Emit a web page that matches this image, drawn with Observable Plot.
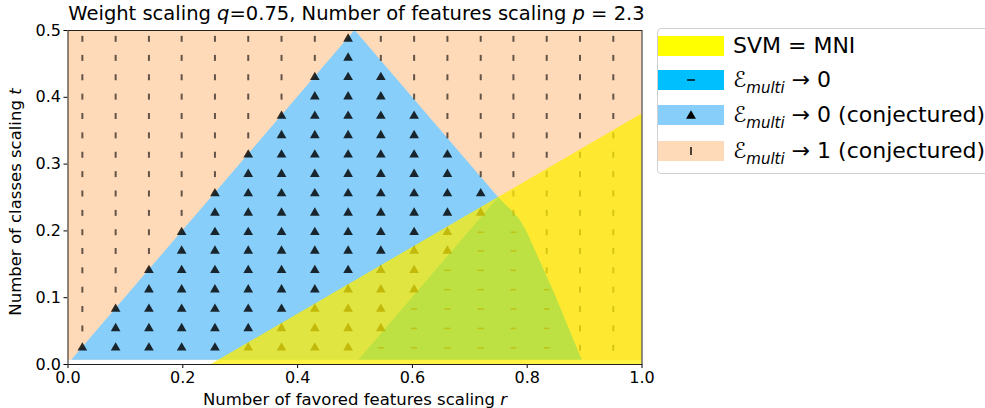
<!DOCTYPE html>
<html>
<head>
<meta charset="utf-8">
<script src="https://cdn.jsdelivr.net/npm/d3@7"></script>
<script src="https://cdn.jsdelivr.net/npm/@observablehq/plot@0.6"></script>
<style>
  body { margin: 0; background: #fff; font-family: "DejaVu Sans", sans-serif; color: #000; }
  #wrap { position: relative; width: 985px; height: 408px; overflow: hidden; }
  #plot { position: absolute; left: 0; top: 10px; }
  #title { position: absolute; left: 0; width: 713px; top: 4px; line-height: 20px; text-align: center; font-size: 19.5px; white-space: nowrap; }
  #xlab { position: absolute; left: 0; width: 710px; top: 390px; line-height: 20px; text-align: center; font-size: 16.5px; white-space: nowrap; }
  #ylab { position: absolute; left: 16px; top: 202px; width: 300px; margin-left: -150px; margin-top: -10px; line-height: 20px; text-align: center; font-size: 16.5px; white-space: nowrap; transform: rotate(-90deg); }
  #legend { position: absolute; left: 657px; top: 28px; width: 340px; height: 146px; border: 1px solid #d0d0d0; border-radius: 4px; box-sizing: border-box; background: #fff; }
  .row { position: absolute; left: 0; height: 20px; display: flex; align-items: center; }
  .patch { width: 66px; height: 20px; display: flex; align-items: center; justify-content: center; }
  .lab { margin-left: 9px; font-size: 22px; line-height: 20px; white-space: nowrap; }
  .lab sub { font-size: 15px; font-style: italic; vertical-align: -6px; line-height: 0; }
</style>
</head>
<body>
<div id="wrap">
  <div id="plot"></div>
  <div id="title">Weight scaling <i>q</i>=0.75, Number of features scaling <i>p</i> = 2.3</div>
  <div id="xlab">Number of favored features scaling <i>r</i></div>
  <div id="ylab">Number of classes scaling <i>t</i></div>
  <div id="legend"></div>
</div>
<script>
// ---- data ----
// marker grid positions (favored features scaling r, classes scaling t)
const rGrid = [0.025, 0.083, 0.141, 0.198, 0.256, 0.314, 0.372, 0.430, 0.488, 0.545, 0.603, 0.661, 0.719, 0.776, 0.834, 0.892, 0.950];
const tGrid = [0.025, 0.054, 0.083, 0.112, 0.141, 0.170, 0.198, 0.227, 0.256, 0.285, 0.314, 0.343, 0.372, 0.401, 0.430, 0.459, 0.4875];
// marker type per grid cell, bottom row first: P = "|" (->1 conj.), T = triangle (->0 conj.), D = "-" (->0)
const markerRows = [
  "TTTTTTTTTDDDDDDPP",
  "PTTTTTTTTTDDDDDPP",
  "PTTTTTTTTTDDDDDPP",
  "PPTTTTTTTTTDDDDPP",
  "PPTTTTTTTTTDDDPPP",
  "PPPTTTTTTTTTDDPPP",
  "PPPTTTTTTTTTDDPPP",
  "PPPPTTTTTTTTTPPPP",
  "PPPPTTTTTTTTTPPPP",
  "PPPPPTTTTTTTPPPPP",
  "PPPPPTTTTTTTPPPPP",
  "PPPPPPTTTTTPPPPPP",
  "PPPPPPTTTTTPPPPPP",
  "PPPPPPPTTTPPPPPPP",
  "PPPPPPPTTTPPPPPPP",
  "PPPPPPPPTPPPPPPPP",
  "PPPPPPPPTPPPPPPPP"
];
// region boundaries (r, lower t, upper t)
const peachR  = [0, 1];
const peachLo = [0.0065, 0.0065];
const peachHi = [0.5, 0.5];
const lightBlueR  = [0.0065, 0.5, 0.5065, 0.75];
const lightBlueLo = [0.0065, 0.0065, 0.0065, 0.25];
const lightBlueHi = [0.0065, 0.5, 0.4935, 0.25];
const deepBlueR  = [0.5065, 0.75, 0.777, 0.788, 0.80, 0.846, 0.896];
const deepBlueLo = [0.0065, 0.0065, 0.0065, 0.0065, 0.0065, 0.0065, 0.0065];
const deepBlueHi = [0.0065, 0.25, 0.227, 0.216, 0.198, 0.11, 0.0065];
const yellowR  = [0.25, 1];
const yellowLo = [0, 0];
const yellowHi = [0, 0.375];
// axis ticks
const xTicks = [0, 0.2, 0.4, 0.6, 0.8, 1.0];
const yTicks = [0, 0.1, 0.2, 0.3, 0.4, 0.5];
// legend
const legendLabels = ["SVM = MNI", "ℰ<sub>multi</sub> → 0", "ℰ<sub>multi</sub> → 0 (conjectured)", "ℰ<sub>multi</sub> → 1 (conjectured)"];
const legendColors = ["#ffff00", "#00bfff", "#87cefa", "#ffdab9"];
const legendMarks = ["", "D", "T", "P"];

// ---- build tables ----
const region = (R, lo, hi) => R.map((r, i) => ({r, lo: lo[i], hi: hi[i]}));
const markers = [];
markerRows.forEach((row, j) => row.split("").forEach((c, k) => markers.push({r: rGrid[k], t: tGrid[j], type: c})));

const vbar = {draw(ctx) { ctx.rect(-1, -3, 2, 6); }};
const hbar = {draw(ctx) { ctx.rect(-3, -0.8, 6, 1.6); }};

const chart = Plot.plot({
  width: 665,
  height: 398,
  marginTop: 20,
  marginBottom: 44,
  marginLeft: 67.5,
  marginRight: 23.5,
  style: {fontFamily: "DejaVu Sans", fontSize: "16px", background: "transparent", color: "#000", overflow: "visible"},
  x: {domain: [0, 1], ticks: xTicks, tickFormat: d3.format(".1f"), label: null, tickSize: 4, tickPadding: 3},
  y: {domain: [0, 0.5], ticks: yTicks, tickFormat: d3.format(".1f"), label: null, tickSize: 4, tickPadding: 3},
  marks: [
    Plot.areaY(region(peachR, peachLo, peachHi), {x: "r", y1: "lo", y2: "hi", fill: "#ffdab9"}),
    Plot.areaY(region(lightBlueR, lightBlueLo, lightBlueHi), {x: "r", y1: "lo", y2: "hi", fill: "#87cefa"}),
    Plot.areaY(region(deepBlueR, deepBlueLo, deepBlueHi), {x: "r", y1: "lo", y2: "hi", fill: "#00bfff"}),
    Plot.dot(markers.filter(d => d.type === "P"), {x: "r", y: "t", symbol: vbar, fill: "#000", fillOpacity: 0.62, stroke: "none", r: 3}),
    Plot.dot(markers.filter(d => d.type === "D"), {x: "r", y: "t", symbol: hbar, fill: "#000", fillOpacity: 0.62, stroke: "none", r: 3}),
    Plot.dot(markers.filter(d => d.type === "T"), {x: "r", y: "t", symbol: "triangle", fill: "#000", fillOpacity: 0.82, stroke: "none", r: 3.6}),
    Plot.areaY(region(yellowR, yellowLo, yellowHi), {x: "r", y1: "lo", y2: "hi", fill: "#ffee00", fillOpacity: 0.74}),
    Plot.frame({stroke: "#222", strokeWidth: 1})
  ]
});
document.getElementById("plot").appendChild(chart);

// ---- legend (HTML) ----
const legendTops = [7, 41, 76, 112];
const legend = d3.select("#legend");
legendLabels.forEach((lab, i) => {
  const row = legend.append("div").attr("class", "row").style("top", legendTops[i] + "px");
  const patch = row.append("div").attr("class", "patch").style("background", legendColors[i]);
  const svg = patch.append("svg").attr("width", 20).attr("height", 20);
  if (legendMarks[i] === "D") svg.append("rect").attr("x", 6).attr("y", 9.3).attr("width", 8).attr("height", 1.4).attr("fill", "#000");
  if (legendMarks[i] === "T") svg.append("path").attr("d", d3.symbol(d3.symbolTriangle2, 70)()).attr("transform", "translate(10,11)").attr("fill", "#000");
  if (legendMarks[i] === "P") svg.append("rect").attr("x", 9.3).attr("y", 6).attr("width", 1.4).attr("height", 8).attr("fill", "#000");
  row.append("div").attr("class", "lab").html(lab);
});
</script>
</body>
</html>
